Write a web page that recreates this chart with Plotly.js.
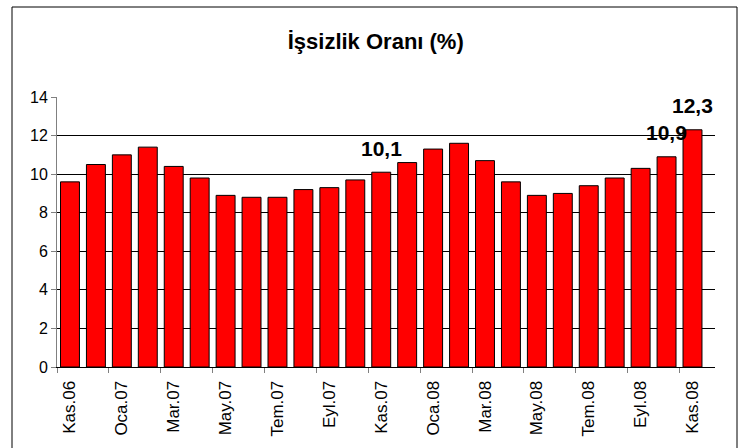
<!DOCTYPE html>
<html>
<head>
<meta charset="utf-8">
<script src="https://cdn.plot.ly/plotly-3.0.1.min.js"></script>
<style>html,body{margin:0;padding:0;background:#fff;}#chart{width:747px;height:448px;}</style>
</head>
<body>
<div id="chart"></div>
<script>
const months = ["Kas.06","Ara.06","Oca.07","Şub.07","Mar.07","Nis.07","May.07","Haz.07","Tem.07","Ağu.07","Eyl.07","Eki.07",
                "Kas.07","Ara.07","Oca.08","Şub.08","Mar.08","Nis.08","May.08","Haz.08","Tem.08","Ağu.08","Eyl.08","Eki.08","Kas.08"];
const rates = [9.6,10.5,11.0,11.4,10.4,9.8,8.9,8.8,8.8,9.2,9.3,9.7,
               10.1,10.6,11.3,11.6,10.7,9.6,8.9,9.0,9.4,9.8,10.3,10.9,12.3];
const labelledIdx = [12, 23, 24];
const yTicks = [0,2,4,6,8,10,12,14];
const titleText = "İşsizlik Oranı (%)";

const FONT = "Liberation Sans, Arial, sans-serif";

const trace = {
  type: "bar",
  x: months,
  y: rates,
  marker: {color: "#FF0000", line: {color: "#000000", width: 1}},
  hoverinfo: "x+y"
};

const annotations = labelledIdx.map(i => ({
  x: months[i], y: rates[i], xref: "x", yref: "y",
  text: "<b>" + rates[i].toFixed(1).replace(".", ",") + "</b>",
  showarrow: false, yanchor: "middle", yshift: 24,
  font: {family: FONT, size: 21, color: "#000"}
}));

const layout = {
  width: 747, height: 448,
  margin: {l: 57, r: 32, t: 97, b: 81},
  paper_bgcolor: "#fff", plot_bgcolor: "#fff",
  font: {family: FONT, size: 14, color: "#000"},
  showlegend: false,
  bargap: 0.27,
  title: {text: "<b>" + titleText + "</b>", x: 0.503, xanchor: "center", y: 1 - 41/448, yref: "container", yanchor: "middle",
          font: {family: FONT, size: 22, color: "#000"}},
  xaxis: {
    type: "category", dtick: 2, tickson: "boundaries",
    tickangle: -90, ticks: "outside", ticklen: 5, tickcolor: "#808080",
    ticklabelstandoff: 6,
    showline: true, linecolor: "#000", linewidth: 1,
    showgrid: false, zeroline: false,
    tickfont: {family: FONT, size: 17, color: "#000"}
  },
  yaxis: {
    range: [0, 14], tickvals: yTicks, ticktext: yTicks.map(String),
    ticks: "outside", ticklen: 5, tickcolor: "#808080",
    showline: true, linecolor: "#808080", linewidth: 1,
    showgrid: true, gridcolor: "#000", gridwidth: 1, zeroline: false,
    tickfont: {family: FONT, size: 16, color: "#000"}
  },
  annotations: annotations,
  shapes: [{type: "rect", xref: "paper", yref: "paper",
            x0: (12-57)/658, x1: (737-57)/658, y0: (367-460)/270, y1: (367-7)/270,
            line: {color: "#000", width: 1}, fillcolor: "rgba(0,0,0,0)", layer: "below"}]
};

Plotly.newPlot("chart", [trace], layout, {displayModeBar: false, staticPlot: true});
</script>
</body>
</html>
